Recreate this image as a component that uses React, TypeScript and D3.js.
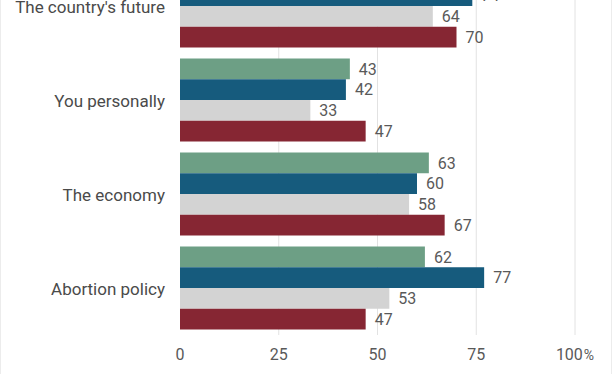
import { useEffect, useRef } from 'react';
import * as d3 from 'd3';

const W = 612;
const H = 374;

// categories top → bottom
const categories = ["The country's future", 'You personally', 'The economy', 'Abortion policy'];
// four series, drawn in this order inside each group
const seriesKeys = ['s1', 's2', 's3', 's4'];
const seriesColors = ['#6d9f85', '#165b7d', '#d3d3d3', '#862633'];
const s1 = [72, 43, 63, 62];
const s2 = [74, 42, 60, 77];
const s3 = [64, 33, 58, 53];
const s4 = [70, 47, 67, 47];
const seriesValues = [s1, s2, s3, s4];
const xTicks = [0, 25, 50, 75, 100];

const FONT = 'Roboto, "Noto Sans", sans-serif';
const TXT = '#595959';

export default function App() {
  const svgRef = useRef<SVGSVGElement>(null);

  useEffect(() => {
    document.body.style.margin = '0';
    if (!svgRef.current) return;
    const svg = d3.select(svgRef.current);
    svg.selectAll('*').remove();

    // ── Scales ────────────────────────────────────────────────────────────
    const x = d3.scaleLinear().domain([0, 100]).range([180, 575]);
    const y = d3.scaleBand<string>()
      .domain(categories)
      .range([-41, 335])
      .paddingInner(0.117)
      .paddingOuter(0.0585);
    const ySub = d3.scaleBand<string>()
      .domain(seriesKeys)
      .range([0, y.bandwidth()]);

    // frame
    svg.append('rect')
      .attr('x', 0.5).attr('y', -5).attr('width', W - 1).attr('height', H + 10)
      .attr('fill', '#fff').attr('stroke', '#ececec');

    // ── Grid ──────────────────────────────────────────────────────────────
    svg.append('g')
      .selectAll('line')
      .data(xTicks.filter(t => t > 0))
      .join('line')
      .attr('x1', d => x(d)).attr('x2', d => x(d))
      .attr('y1', -41).attr('y2', 335)
      .attr('stroke', '#e2e2e2').attr('stroke-width', 1);

    // ── Bars ──────────────────────────────────────────────────────────────
    const groups = svg.append('g')
      .selectAll('g')
      .data(categories)
      .join('g')
      .attr('transform', c => `translate(0,${y(c)})`);

    seriesKeys.forEach((k, si) => {
      groups.append('rect')
        .attr('x', x(0))
        .attr('y', ySub(k)!)
        .attr('width', (_c, ci) => x(seriesValues[si][ci]) - x(0))
        .attr('height', ySub.bandwidth())
        .attr('fill', seriesColors[si]);

      groups.append('text')
        .attr('x', (_c, ci) => x(seriesValues[si][ci]) + 9)
        .attr('y', ySub(k)! + ySub.bandwidth() / 2)
        .attr('dy', '0.36em')
        .attr('fill', TXT).attr('font-size', 16).attr('font-family', FONT)
        .text((_c, ci) => seriesValues[si][ci]);
    });

    // category labels
    groups.append('text')
      .attr('x', 165)
      .attr('y', y.bandwidth() / 2 + 1)
      .attr('dy', '0.36em')
      .attr('text-anchor', 'end')
      .attr('fill', '#4a4a4a').attr('font-size', 17).attr('font-family', FONT)
      .text(c => c);

    // ── X axis labels ─────────────────────────────────────────────────────
    const ax = svg.append('g')
      .selectAll('text')
      .data(xTicks)
      .join('text')
      .attr('x', d => x(d))
      .attr('y', 354)
      .attr('dy', '0.36em')
      .attr('text-anchor', 'middle')
      .attr('fill', TXT).attr('font-size', 16).attr('font-family', FONT);
    ax.append('tspan').text(d => d);
    ax.filter(d => d === 100).append('tspan')
      .attr('dx', 1).attr('font-size', 14).text('%');
  }, []);

  return (
    <div style={{ position: 'absolute', left: 0, top: 0 }}>
      <svg ref={svgRef} width={W} height={H} style={{ display: 'block' }} />
    </div>
  );
}
